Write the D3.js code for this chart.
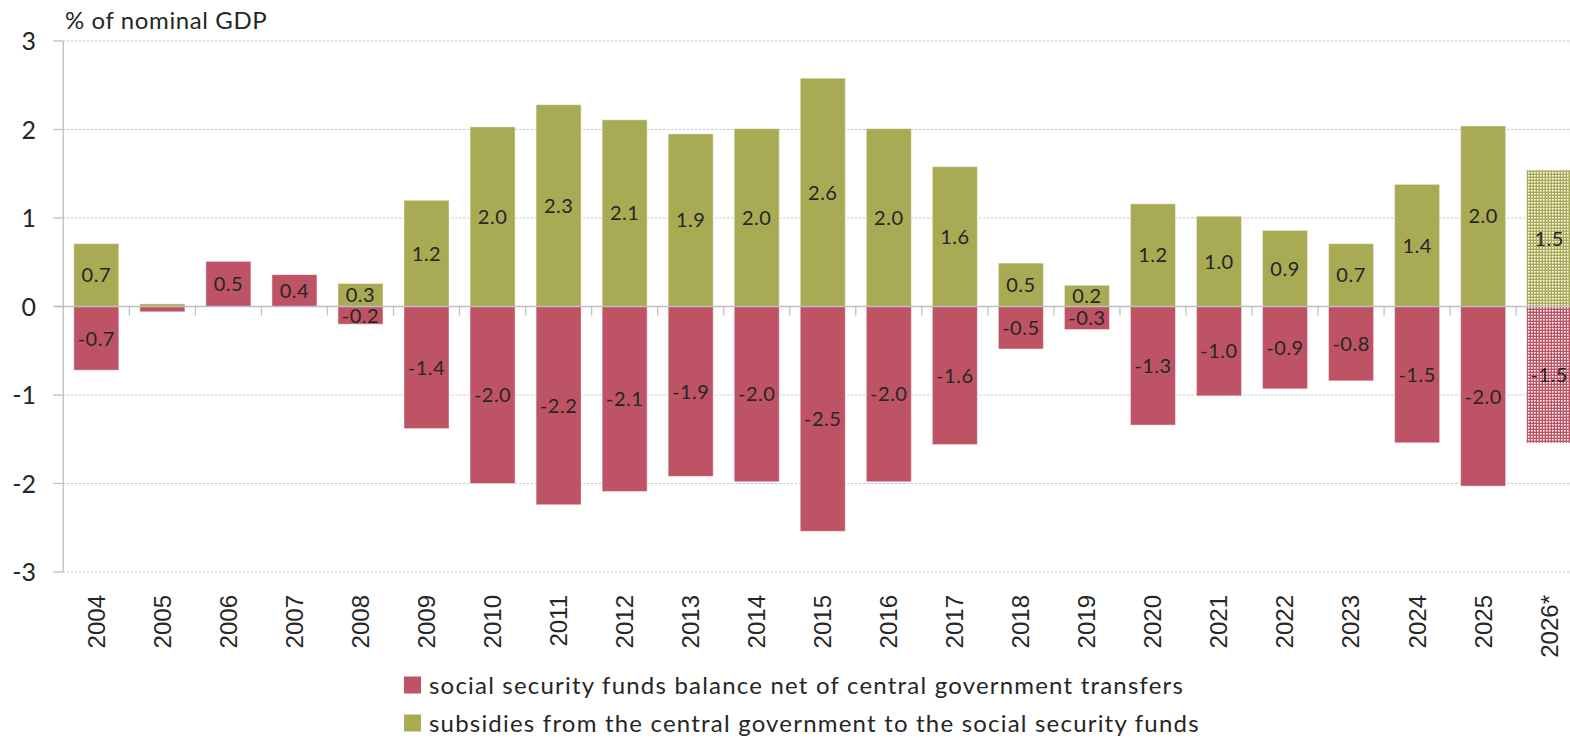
<!DOCTYPE html>
<html>
<head>
<meta charset="utf-8">
<script src="https://cdn.jsdelivr.net/npm/d3@7"></script>
<style>
  html, body { margin: 0; padding: 0; background: #fff; }
  svg { display: block; }
</style>
</head>
<body>
<svg id="chart" width="1570" height="739"></svg>
<script>
// Years; the last one is a forecast
const years = ["2004","2005","2006","2007","2008","2009","2010","2011","2012","2013","2014","2015",
  "2016","2017","2018","2019","2020","2021","2022","2023","2024","2025","2026*"];

// Social security funds balance net of central government transfers (% of GDP)
const balance = [-0.72, -0.06, 0.51, 0.36, -0.2, -1.38, -2.0, -2.24, -2.09, -1.92, -1.98, -2.54,
  -1.98, -1.56, -0.48, -0.26, -1.34, -1.01, -0.93, -0.84, -1.54, -2.03, -1.54];

// Subsidies from the central government to the social security funds (% of GDP)
const subsidies = [0.71, 0.03, 0, 0, 0.26, 1.2, 2.03, 2.28, 2.11, 1.95, 2.01, 2.58,
  2.01, 1.58, 0.49, 0.24, 1.16, 1.02, 0.86, 0.71, 1.38, 2.04, 1.54];

const yTicks = [-3, -2, -1, 0, 1, 2, 3];
const forecastYear = "2026*";

const seriesNames = [
  "social security funds balance net of central government transfers",
  "subsidies from the central government to the social security funds"
];
const colors = { balance: "#BE5366", subsidies: "#A8AA54" };

const svg = d3.select("#chart");
const W = 1570, H = 739;
const plotLeft = 63.3, plotTop = 41, plotBottom = 572;
const step = 66.04;
const plotRight = plotLeft + step * years.length;

const x = d3.scaleBand().domain(years).range([plotLeft, plotRight])
  .paddingInner(0.318).paddingOuter(0.159);
const y = d3.scaleLinear().domain([-3, 3]).range([plotBottom, plotTop]);

const axisColor = "#bfbfbf";
const textColor = "#262626";
const font = "Lato, 'Open Sans', sans-serif";

// Hatched fills for the forecast bars
const defs = svg.append("defs");
function makePattern(id, color) {
  const p = defs.append("pattern").attr("id", id).attr("patternUnits", "userSpaceOnUse")
    .attr("width", 3).attr("height", 3);
  p.append("rect").attr("width", 3).attr("height", 3).attr("fill", color);
  p.append("rect").attr("x", 1).attr("y", 1).attr("width", 1.6).attr("height", 1.6).attr("fill", "#fff");
}
makePattern("pat-balance", colors.balance);
makePattern("pat-subsidies", colors.subsidies);

// Dotted gridlines
svg.append("g").selectAll("line").data(yTicks.filter(d => d !== 0)).join("line")
  .attr("x1", plotLeft).attr("x2", W)
  .attr("y1", d => y(d)).attr("y2", d => y(d))
  .attr("stroke", axisColor).attr("stroke-width", 1).attr("stroke-dasharray", "2,2");

// Stacked bars diverging around zero
const table = years.map((yr, i) => ({ year: yr, balance: balance[i], subsidies: subsidies[i] }));
const stack = d3.stack().keys(["balance", "subsidies"]).offset(d3.stackOffsetDiverging);
const layers = stack(table);

const barG = svg.append("g");
layers.forEach(layer => {
  const key = layer.key;
  barG.append("g").selectAll("rect").data(layer).join("rect")
    .attr("x", d => x(d.data.year))
    .attr("width", x.bandwidth())
    .attr("y", d => y(Math.max(d[0], d[1])))
    .attr("height", d => Math.abs(y(d[0]) - y(d[1])))
    .attr("fill", d => d.data.year === forecastYear ? `url(#pat-${key})` : colors[key])
    .attr("stroke", d => d.data.year === forecastYear ? "none" : "rgba(255,255,255,0.45)")
    .attr("stroke-width", 1);
});

// Value labels centred in each segment
const fmt = v => v.toFixed(1);
const labelG = svg.append("g")
  .attr("font-family", font)
  .attr("font-size", 20).attr("letter-spacing", 0.5)
  .attr("fill", textColor).attr("text-anchor", "middle");
layers.forEach(layer => {
  const key = layer.key;
  labelG.append("g").selectAll("text")
    .data(layer.filter(d => Math.abs(d.data[key]) >= 0.1)).join("text")
    .attr("x", d => x(d.data.year) + x.bandwidth() / 2)
    .attr("y", d => (y(d[0]) + y(d[1])) / 2)
    .attr("dy", "0.36em")
    .text(d => fmt(d.data[key]));
});

// Y axis
const yAxis = svg.append("g");
yAxis.append("line").attr("x1", plotLeft).attr("x2", plotLeft).attr("y1", plotTop).attr("y2", plotBottom)
  .attr("stroke", axisColor).attr("stroke-width", 1.3);
yAxis.selectAll("line.tick").data(yTicks).join("line").attr("class", "tick")
  .attr("x1", plotLeft - 10).attr("x2", plotLeft).attr("y1", d => y(d)).attr("y2", d => y(d))
  .attr("stroke", axisColor).attr("stroke-width", 1.3);
yAxis.selectAll("text").data(yTicks).join("text")
  .attr("x", 36).attr("y", d => y(d)).attr("dy", "0.36em")
  .attr("text-anchor", "end")
  .attr("font-family", font).attr("font-size", 25)
  .attr("fill", textColor).text(d => d);

// Zero line with category ticks
svg.append("line").attr("x1", plotLeft - 10).attr("x2", W).attr("y1", y(0)).attr("y2", y(0))
  .attr("stroke", axisColor).attr("stroke-width", 1.5);
svg.append("g").selectAll("line").data(d3.range(1, years.length)).join("line")
  .attr("x1", i => plotLeft + i * x.step()).attr("x2", i => plotLeft + i * x.step())
  .attr("y1", y(0)).attr("y2", y(0) + 9)
  .attr("stroke", axisColor).attr("stroke-width", 1.3);

// Year labels, rotated
svg.append("g").selectAll("text").data(years).join("text")
  .attr("transform", d => `translate(${x(d) + x.bandwidth() / 2},595) rotate(-90)`)
  .attr("dy", "0.35em")
  .attr("text-anchor", "end")
  .attr("font-family", "'Liberation Sans', Arial, sans-serif").attr("font-size", 24)
  .attr("fill", textColor).text(d => d);

// Unit title
svg.append("text").attr("x", 65).attr("y", 29)
  .attr("font-family", font).attr("font-size", 24).attr("letter-spacing", 0.6)
  .attr("fill", textColor).text("% of nominal GDP");

// Legend
const legend = svg.append("g");
const legendRows = [
  { name: seriesNames[0], color: colors.balance, cy: 685 },
  { name: seriesNames[1], color: colors.subsidies, cy: 723 }
];
legendRows.forEach(r => {
  legend.append("rect").attr("x", 404).attr("y", r.cy - 8.5).attr("width", 17).attr("height", 17)
    .attr("fill", r.color);
  legend.append("text").attr("x", 429).attr("y", r.cy).attr("dy", "0.36em")
    .attr("font-family", font).attr("font-size", 24).attr("letter-spacing", 1.2)
    .attr("fill", textColor).text(r.name);
});
</script>
</body>
</html>
